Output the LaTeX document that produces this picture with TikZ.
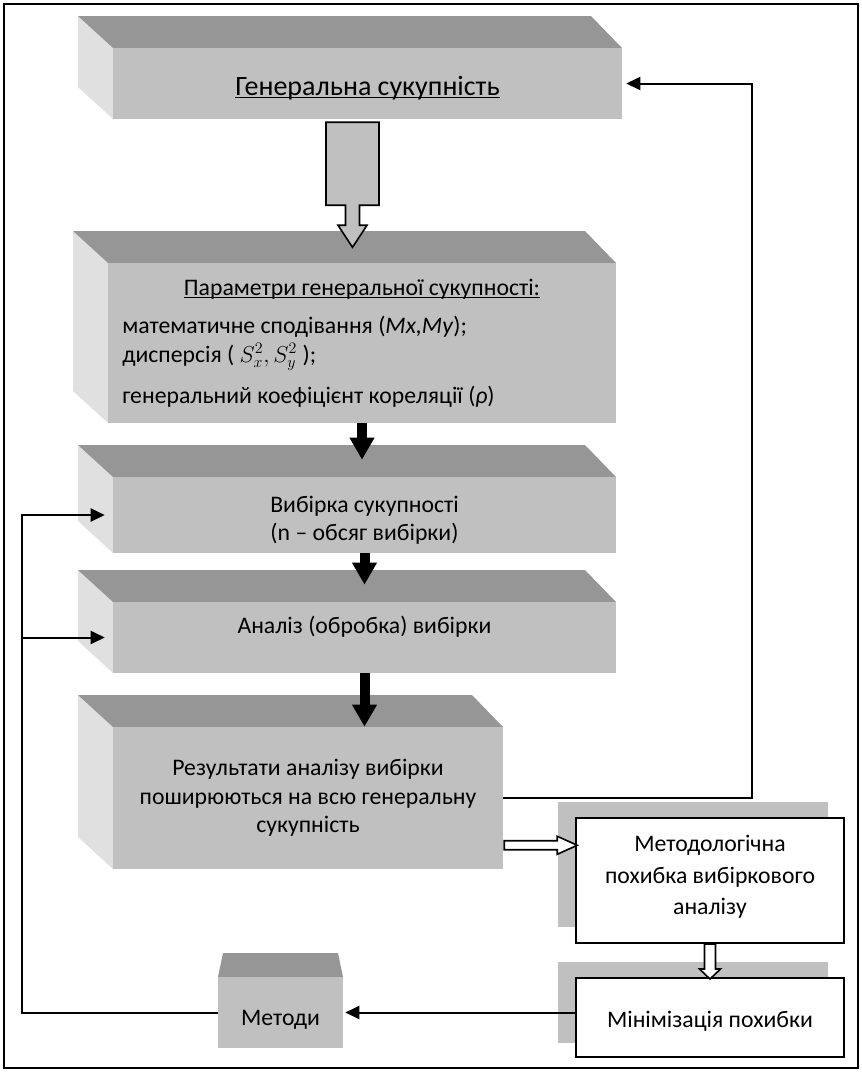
\documentclass[tikz,border=0pt]{standalone}
\usepackage{fontspec}
\setmainfont{Carlito}
\usetikzlibrary{arrows.meta,positioning,calc}
\definecolor{topgray}{HTML}{969696}
\definecolor{facegray}{HTML}{C0C0C0}
\definecolor{sidegray}{HTML}{E0E0E0}
\newcommand{\bodyfont}{\fontsize{17.8}{21.5}\selectfont}
\newcommand{\headfont}{\fontsize{21}{25}\selectfont}
% underline that runs through the descenders
\newcommand{\undl}[1]{\setbox0\hbox{#1}\rlap{\rule[-2.4pt]{\wd0}{0.9pt}}\box0}

% raised block: left side, top face, then the front face as node #1
\newcommand{\slab}[6]{%
  \fill[sidegray] (#2,#3) -- ++(-35,-32) -- (#2-35,#5-32) -- (#2,#5) -- cycle;
  \fill[topgray] (#2,#3) -- ++(-35,-32) -- (#4-31,#3-32) -- (#4,#3) -- cycle;
  \node[face,minimum width={(#4-#2)*0.75pt},minimum height={(#5-#3)*0.75pt}]
    (#1) at ({(#2+#4)/2},{(#3+#5)/2}) {#6};
}

\begin{document}
\begin{tikzpicture}[x=0.75pt,y=-0.75pt,
  face/.style={fill=facegray,inner sep=0pt,align=center,font=\bodyfont},
  plainbox/.style={draw=black,line width=1.5pt,fill=white,inner sep=0pt,align=center,font=\bodyfont},
  txt/.style={font=\bodyfont,inner sep=0pt},
  conn/.style={line width=1.5pt},
  arr/.style={conn,-{Triangle[length=10.5pt,width=9.75pt]}},
  blk/.style={line width=7.5pt,-{Triangle[length=16.5pt,width=17.5pt]}},
  hollow/.style={draw=black,line width=1.2pt,line join=miter}
]
\useasboundingbox (0,0) rectangle (862,1072);
\draw[line width=1.2pt] (4,4) rectangle (858,1068);

% main chain of raised blocks
\slab{gen}{113}{48}{622}{119}{}
\slab{par}{108}{263}{616}{423}{}
\slab{vyb}{113}{477}{616}{553}{\rule{0pt}{20pt}Вибірка сукупності\\(n – обсяг вибірки)}
\slab{an}{113}{602}{616}{673}{}
\slab{res}{113}{727}{503}{869}{Результати аналізу вибірки\\поширюються на всю генеральну\\сукупність}

\node[txt,font=\headfont,anchor=base] (gentext) at (367.5,95) {\undl{Генеральна сукупність}};
\node[txt,anchor=base] (parhead) at (362,295) {\undl{Параметри генеральної сукупності:}};
\node[txt,anchor=base west] (parmx) at (122,333) {математичне сподівання (\textit{Mx,My});};
\node[txt,anchor=base west] (pardisp) at (122,362) {дисперсія ( $S_x^2,S_y^2$ );};
\node[txt,anchor=base west] (parrho) at (122,403) {генеральний коефіцієнт кореляції (\textit{ρ})};
\node[txt,anchor=base] (antext) at (364.5,633) {Аналіз (обробка) вибірки};

% small block with the top face only
\fill[topgray] (218,977) -- (223,953) -- (338,953) -- (343,977) -- cycle;
\node[face,minimum width=93.75pt,minimum height=53.25pt] (met) at (280.5,1012.5) {};
\node[txt,anchor=base] (mettext) at (280.5,1025) {Методи};

% flat boxes with a grey shadow behind
\fill[facegray] (558,802) rectangle (828,927);
\node[plainbox,minimum width=201pt,minimum height=93.75pt] (mth) at (710,880.5) {};
\node[txt,align=center,font=\fontsize{17.8}{23.5}\selectfont] (mthtext) at (710,877)
  {Методологічна\\похибка вибіркового\\аналізу};
\fill[facegray] (558,962) rectangle (828,1043);
\node[plainbox,minimum width=201pt,minimum height=59.25pt] (minim) at (710,1017.5) {};
\node[txt,anchor=base] (mintext) at (710,1027) {Мінімізація похибки};

% block arrows
\draw[hollow,fill=facegray] ($(gen.south)+(-41.5,3)$) -- ++(53,0) -- ++(0,83) -- ++(-19.5,0) -- ++(0,20) -- ++(7.5,0)
  -- ++(-14.5,22) -- ++(-14.5,-22) -- ++(7.5,0) -- ++(0,-20) -- ++(-19.5,0) -- cycle;
\draw[blk,shorten >=12.75pt] (par.south) -- (par.south |- vyb.north);
\draw[blk,shorten >=12.75pt] (vyb.south) -- (vyb.south |- an.north);
\draw[blk] (an.south) -- (an.south |- res.north);
\draw[hollow,fill=white] ($(res.south east)+(1,-28.5)$) -- ++(53,0) -- ++(0,-4.5) -- ++(20,9) -- ++(-20,9)
  -- ++(0,-4.5) -- ++(-53,0) -- cycle;
\draw[hollow,fill=white] ($(mth.south)+(-5.5,0)$) -- ++(11,0) -- ++(0,25) -- ++(5,0) -- ++(-10.5,10)
  -- ++(-10.5,-10) -- ++(5,0) -- cycle;

% feedback lines
\coordinate (rt) at (752,0);
\coordinate (lx) at (22,0);
\draw[arr,shorten >=3pt] (res.east) -| (rt |- gen.east) -- (gen.east);
\draw[arr,shorten >=6pt] (met.west) -| (lx |- vyb.west) -- (vyb.west);
\draw[arr,shorten >=6pt] (lx |- an.west) -- (an.west);
\draw[arr,shorten >=1.5pt] (minim.west |- met.east) -- (met.east);
\end{tikzpicture}
\end{document}
